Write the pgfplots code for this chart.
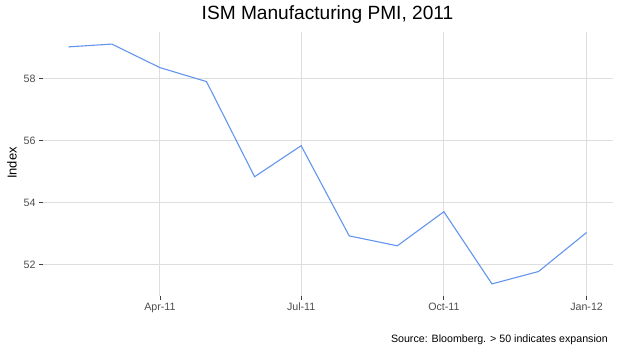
\documentclass[border=0pt]{standalone}
\usepackage{pgfplots}
\pgfplotsset{compat=1.18}
\usepackage{fontspec}
\setmainfont{Liberation Sans}
\definecolor{gridc}{RGB}{222,222,222}
\definecolor{linec}{RGB}{100,149,237}
\definecolor{tickc}{RGB}{77,77,77}
\begin{document}
\begin{tikzpicture}
\begin{axis}[
  at={(0,0)}, anchor=south west,
  scale only axis, width=570bp, height=264bp,
  xmin=14.3, xmax=381.7, ymin=50.98, ymax=59.5,
  axis line style={draw=none},
  tick pos=left, tick align=outside,
  major tick length=3.5bp,
  tick style={color=black!75, line width=0.8bp},
  grid=major, major grid style={gridc, line width=1bp},
  xtick={90,181,273,365}, xticklabels={Apr-11,Jul-11,Oct-11,Jan-12},
  ytick={52,54,56,58},
  ticklabel style={font=\fontsize{10.7}{12}\selectfont, text=tickc},
  /pgf/number format/assume math mode=true,
]
\addplot[linec, line width=1.1bp] coordinates {
(31,59.02) (59,59.11) (90,58.35) (120,57.90) (151,54.83) (181,55.83)
(212,52.92) (243,52.60) (273,53.70) (304,51.37) (334,51.77) (365,53.03)
};
\end{axis}
\node[font=\fontsize{19.2}{22}\selectfont] at (285bp,281bp) {ISM Manufacturing PMI, 2011};
\node[rotate=90, font=\fontsize{13}{15}\selectfont] at (-30.5bp,133bp) {Index};
\node[anchor=base east, inner sep=0pt, font=\fontsize{10.7}{12}\selectfont] at (565.5bp,-46.7bp) {Source: Bloomberg. > 50 indicates expansion};
\pgfresetboundingbox
\path[use as bounding box] (-42.5bp,-57bp) rectangle (575.5bp,296bp);
\end{tikzpicture}
\end{document}
